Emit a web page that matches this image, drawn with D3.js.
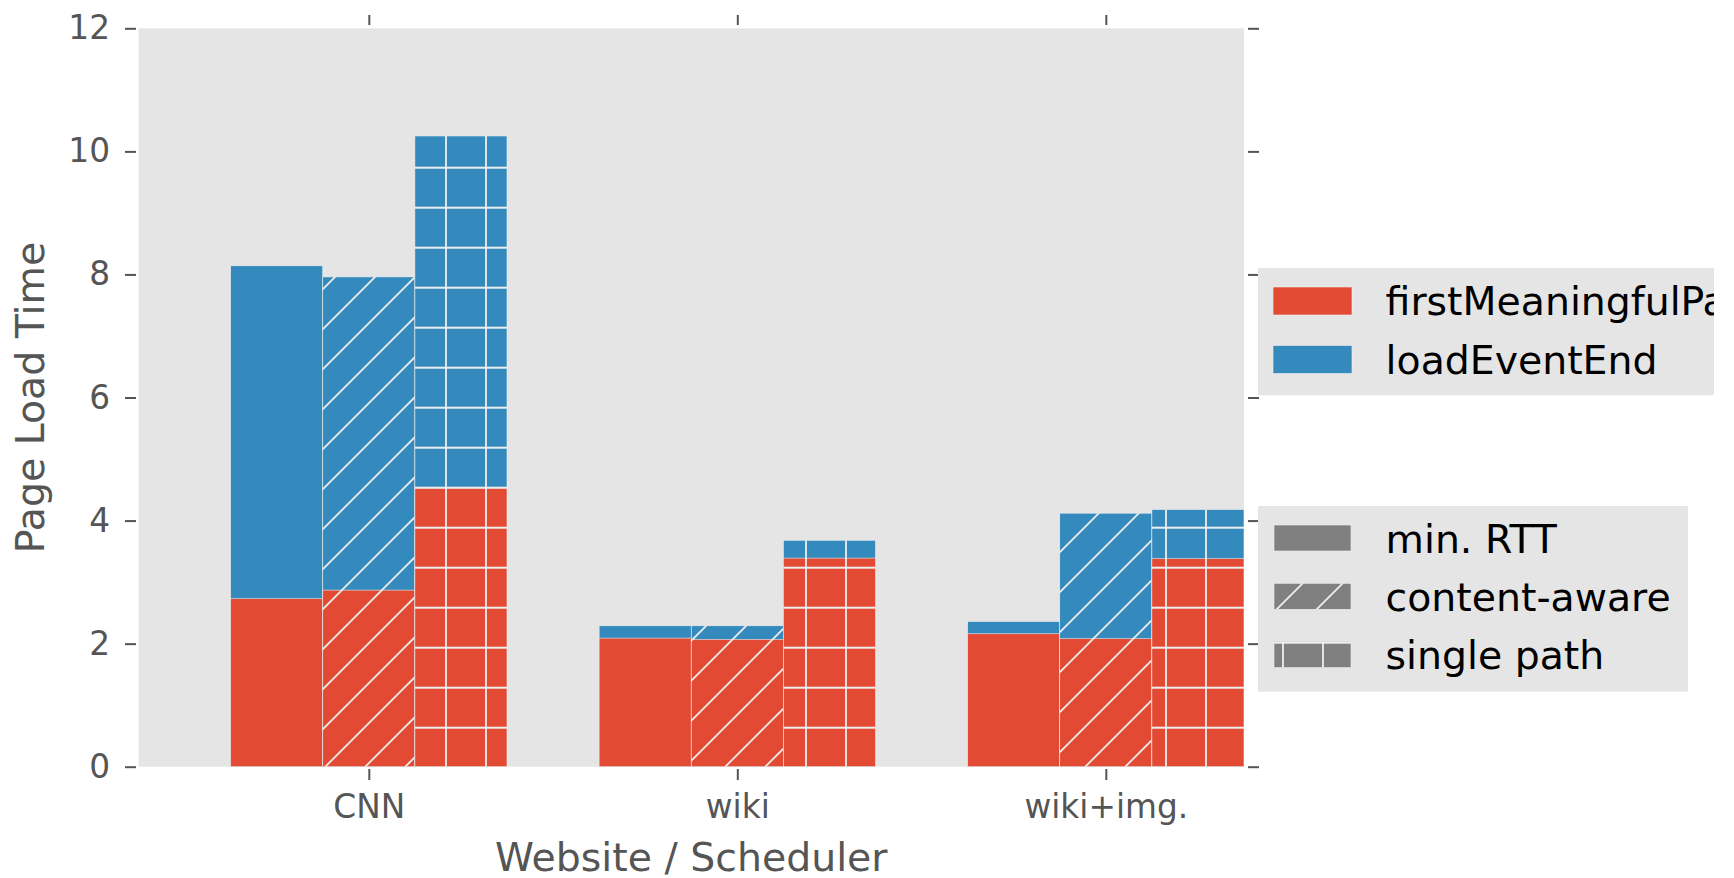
<!DOCTYPE html>
<html><head><meta charset="utf-8">
<script src="https://cdn.jsdelivr.net/npm/d3@7/dist/d3.min.js"></script>
<style>
body{margin:0;background:#fff}
svg{display:block}
text{font-family:"DejaVu Sans",sans-serif}
</style>
</head><body>
<svg id="chart" width="1734" height="878"></svg>
<script>
// ---- data ----
const categories = ["CNN", "wiki", "wiki+img."];
const schedulers = ["min. RTT", "content-aware", "single path"];
const metrics = ["firstMeaningfulPaint", "loadEventEnd"];
// firstMeaningfulPaint per scheduler (CNN, wiki, wiki+img.)
const fmpMinRTT = [2.73, 2.09, 2.16];
const fmpContentAware = [2.87, 2.07, 2.08];
const fmpSinglePath = [4.53, 3.39, 3.38];
// loadEventEnd per scheduler
const loadMinRTT = [8.14, 2.29, 2.36];
const loadContentAware = [7.96, 2.29, 4.12];
const loadSinglePath = [10.25, 3.68, 4.18];
const yTicks = [0, 2, 4, 6, 8, 10, 12];

const fmpSeries = [fmpMinRTT, fmpContentAware, fmpSinglePath];
const loadSeries = [loadMinRTT, loadContentAware, loadSinglePath];
const hatches = ["none", "diag", "plus"];

const RED = "#E24A33", BLUE = "#348ABD", BG = "#E5E5E5", GREY = "#808080";
const svg = d3.select("#chart");

const plotL = 138.5, plotR = 1244, plotT = 28.3, plotB = 766.7;
const x = d3.scaleLinear().domain([-0.625, 2.375]).range([plotL, plotR]);
const y = d3.scaleLinear().domain([0, 12]).range([plotB, plotT]);
const barW = 0.25;

// ---- patterns ----
const defs = svg.append("defs");
function diagPattern(id, ox, oy) {
  const p = defs.append("pattern").attr("id", id).attr("patternUnits", "userSpaceOnUse")
    .attr("width", 40).attr("height", 40).attr("patternTransform", `translate(${ox},${oy})`);
  p.append("path").attr("d", "M-10,10 L10,-10 M0,40 L40,0 M30,50 L50,30")
    .attr("stroke", "#eeeeee").attr("stroke-width", 1.8).attr("fill", "none");
}
function plusPattern(id, ox, oy) {
  const p = defs.append("pattern").attr("id", id).attr("patternUnits", "userSpaceOnUse")
    .attr("width", 40).attr("height", 40).attr("patternTransform", `translate(${ox},${oy})`);
  p.append("path").attr("d", "M0,20 L40,20 M20,0 L20,40")
    .attr("stroke", "#eeeeee").attr("stroke-width", 1.8).attr("fill", "none");
}
diagPattern("diag", 12, 0);
plusPattern("plus", -14, -12.3);
diagPattern("diagL", 6, 0);
plusPattern("plusL", -17, -17.3);

defs.append("clipPath").attr("id", "plotClip").append("rect")
  .attr("x", plotL).attr("y", plotT).attr("width", plotR - plotL).attr("height", plotB - plotT);

// ---- background ----
svg.append("rect").attr("x", plotL).attr("y", plotT)
  .attr("width", plotR - plotL).attr("height", plotB - plotT).attr("fill", BG);

// ---- bars ----
const barsG = svg.append("g").attr("clip-path", "url(#plotClip)");
schedulers.forEach((s, j) => {
  categories.forEach((c, i) => {
    const left = x(i + (j - 1) * barW - barW / 2);
    const w = x(barW) - x(0);
    const load = loadSeries[j][i], fmp = fmpSeries[j][i];
    barsG.append("rect").attr("x", left).attr("y", y(load)).attr("width", w)
      .attr("height", y(0) - y(load)).attr("fill", BLUE)
      .attr("stroke", "#eeeeee").attr("stroke-width", 0.6);
    barsG.append("rect").attr("x", left).attr("y", y(fmp)).attr("width", w)
      .attr("height", y(0) - y(fmp)).attr("fill", RED)
      .attr("stroke", "#eeeeee").attr("stroke-width", 0.6);
    if (hatches[j] !== "none") {
      barsG.append("rect").attr("x", left).attr("y", y(load)).attr("width", w)
        .attr("height", y(0) - y(load)).attr("fill", `url(#${hatches[j]})`);
    }
  });
});

// ---- axes ----
function styleAxis(g) {
  g.select(".domain").remove();
  g.selectAll(".tick line").attr("stroke", "#555555").attr("stroke-width", 2);
  g.selectAll(".tick text").attr("fill", "#555555").attr("font-size", 32.8)
    .attr("font-family", "DejaVu Sans");
}
svg.append("g").attr("transform", "translate(136,0)")
  .call(d3.axisLeft(y).tickValues(yTicks).tickSize(11).tickPadding(15).tickFormat(d3.format("d")))
  .call(styleAxis);
svg.append("g").attr("transform", "translate(1248,0)")
  .call(d3.axisRight(y).tickValues(yTicks).tickSize(11).tickFormat(""))
  .call(styleAxis);
svg.append("g").attr("transform", "translate(0,25)")
  .call(d3.axisTop(x).tickValues([0, 1, 2]).tickSize(10).tickFormat(""))
  .call(styleAxis);
svg.append("g").attr("transform", "translate(0,769)")
  .call(d3.axisBottom(x).tickValues([0, 1, 2]).tickSize(11).tickPadding(15).tickFormat(i => categories[i]))
  .call(styleAxis);

// axis labels
svg.append("text").attr("x", (plotL + plotR) / 2).attr("y", 871)
  .attr("text-anchor", "middle").attr("font-size", 39.4).attr("fill", "#555555")
  .text("Website / Scheduler");
svg.append("text").attr("transform", `translate(44,${(plotT + plotB) / 2}) rotate(-90)`)
  .attr("text-anchor", "middle").attr("font-size", 39.4).attr("fill", "#555555")
  .text("Page Load Time");

// ---- legend 1: metrics (clipped at its frame, as in the reference) ----
defs.append("clipPath").attr("id", "leg1Clip").append("rect")
  .attr("x", 1258).attr("y", 268).attr("width", 1714 - 1258).attr("height", 395.5 - 268);
const leg1 = svg.append("g").attr("clip-path", "url(#leg1Clip)");
leg1.append("rect").attr("x", 1258).attr("y", 268).attr("width", 1714 - 1258)
  .attr("height", 395.5 - 268).attr("fill", BG);
[RED, BLUE].forEach((col, k) => {
  const top = 287 + k * 58.5;
  leg1.append("rect").attr("x", 1273).attr("y", top).attr("width", 79).attr("height", 28)
    .attr("fill", col).attr("stroke", "#eeeeee").attr("stroke-width", 0.6);
  leg1.append("text").attr("x", 1385.6).attr("y", top + 28.3).attr("font-size", 39.4)
    .attr("fill", "#000").text(metrics[k]);
});

// ---- legend 2: schedulers ----
const leg2 = svg.append("g");
leg2.append("rect").attr("x", 1258).attr("y", 506).attr("width", 1688 - 1258)
  .attr("height", 691.7 - 506).attr("fill", BG);
const legHatch = ["none", "diagL", "plusL"];
schedulers.forEach((s, k) => {
  const top = 525 + k * 58.3;
  leg2.append("rect").attr("x", 1274).attr("y", top).attr("width", 77).attr("height", 26)
    .attr("fill", GREY).attr("stroke", "#eeeeee").attr("stroke-width", 0.6);
  if (legHatch[k] !== "none") {
    leg2.append("rect").attr("x", 1274).attr("y", top).attr("width", 77).attr("height", 26)
      .attr("fill", `url(#${legHatch[k]})`);
  }
  leg2.append("text").attr("x", 1385.6).attr("y", top + 27.7).attr("font-size", 39.4)
    .attr("fill", "#000").text(s);
});
</script>
</body></html>
